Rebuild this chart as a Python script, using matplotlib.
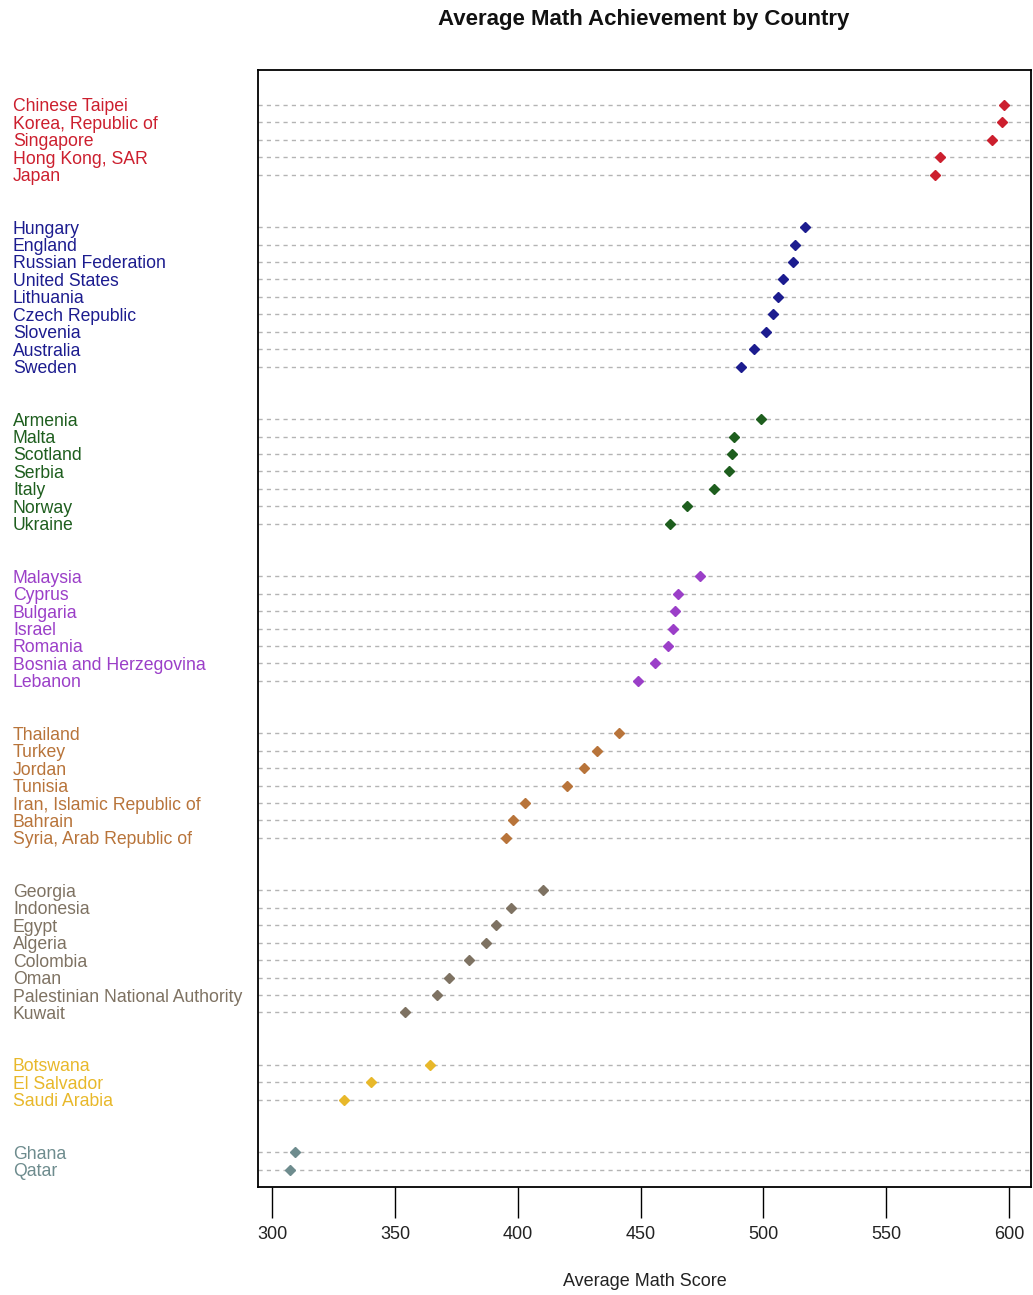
import matplotlib
matplotlib.use("Agg")
import matplotlib.pyplot as plt
import matplotlib.transforms as transforms

# TIMSS average math scores, listed top to bottom, with the cluster each belongs to
countries = [
	"Chinese Taipei", "Korea, Republic of", "Singapore", "Hong Kong, SAR", "Japan",
	"Hungary", "England", "Russian Federation", "United States", "Lithuania",
	"Czech Republic", "Slovenia", "Australia", "Sweden",
	"Armenia", "Malta", "Scotland", "Serbia", "Italy", "Norway", "Ukraine",
	"Malaysia", "Cyprus", "Bulgaria", "Israel", "Romania", "Bosnia and Herzegovina", "Lebanon",
	"Thailand", "Turkey", "Jordan", "Tunisia", "Iran, Islamic Republic of", "Bahrain",
	"Syria, Arab Republic of",
	"Georgia", "Indonesia", "Egypt", "Algeria", "Colombia", "Oman",
	"Palestinian National Authority", "Kuwait",
	"Botswana", "El Salvador", "Saudi Arabia",
	"Ghana", "Qatar",
]
scores = [
	598, 597, 593, 572, 570,
	517, 513, 512, 508, 506, 504, 501, 496, 491,
	499, 488, 487, 486, 480, 469, 462,
	474, 465, 464, 463, 461, 456, 449,
	441, 432, 427, 420, 403, 398, 395,
	410, 397, 391, 387, 380, 372, 367, 354,
	364, 340, 329,
	309, 307,
]
groups = [0] * 5 + [1] * 9 + [2] * 7 + [3] * 7 + [4] * 7 + [5] * 8 + [6] * 3 + [7] * 2
group_colors = ["#CC1F2E", "#1C1C8F", "#1E5E1E", "#9B3FC8",
				"#B8743A", "#7E7262", "#E8B82A", "#6E8C8E"]
xticks = [300, 350, 400, 450, 500, 550, 600]

font = ["Liberation Sans", "DejaVu Sans"]

# row index: two blank rows between groups
rows = []
r = 0
for i, g in enumerate(groups):
	if i > 0 and g != groups[i - 1]:
		r += 2
	rows.append(r)
	r += 1
n_rows = rows[-1] + 1

fig = plt.figure(figsize=(10.33, 12.95), dpi=100)
ax = fig.add_axes([258 / 1033, 1 - 1187 / 1295, 773 / 1033, 1117 / 1295])

# labels sit at the left edge of the figure, nudged a touch below each line
trans = transforms.blended_transform_factory(fig.transFigure, ax.transData)
trans = trans + transforms.ScaledTranslation(0, -2 / 100, fig.dpi_scale_trans)
for name, score, g, row in zip(countries, scores, groups, rows):
	col = group_colors[g]
	ax.axhline(row, color="#b4b4b4", lw=1.0, ls=(0, (3, 3)), zorder=1)
	ax.plot(score, row, marker="D", ms=5, color=col, mec=col, zorder=3)
	ax.text(13 / 1033, row, name, transform=trans, color=col, fontsize=12.7,
			family=font, ha="left", va="center")

ax.set_ylim(n_rows, -2)
ax.set_xlim(294.1, 609)
ax.set_yticks([])
ax.set_xticks(xticks)
ax.set_xticklabels([str(t) for t in xticks], family=font, fontsize=13, color="#222222")
ax.tick_params(axis="x", length=22, width=1, pad=6)
for s in ax.spines.values():
	s.set_linewidth(1.3)

ax.set_xlabel("Average Math Score", family=font, fontsize=13, color="#222222", labelpad=22)
fig.text(644 / 1033, 1 - 20 / 1295, "Average Math Achievement by Country",
		 family=font, fontsize=16, fontweight="bold", ha="center", va="center", color="#111111")

fig.savefig("out.png", dpi=100)
